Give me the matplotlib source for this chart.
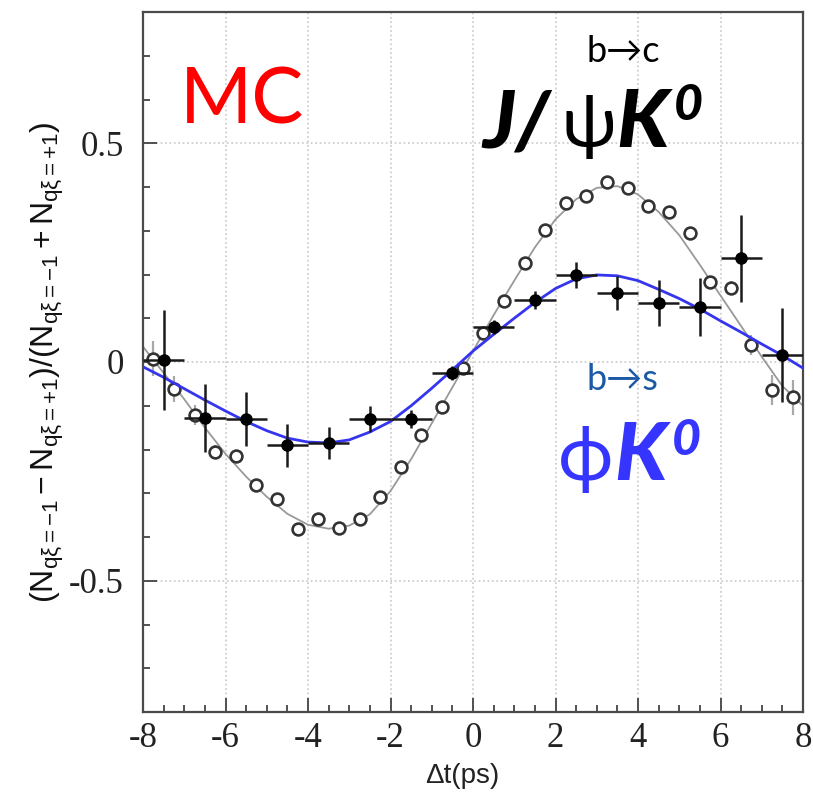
import numpy as np
import matplotlib
matplotlib.use("Agg")
import matplotlib.pyplot as plt

plt.rcParams['axes.unicode_minus'] = False
plt.rcParams['mathtext.fontset'] = 'custom'
plt.rcParams['mathtext.rm'] = 'Liberation Sans'
plt.rcParams['mathtext.it'] = 'Liberation Sans:italic'
plt.rcParams['mathtext.sf'] = 'Liberation Sans'

# phi K0 (b->s), filled points, 1 ps bins
phi_t = [-7.5, -6.5, -5.5, -4.5, -3.5, -2.5, -1.5, -0.5, 0.5, 1.5, 2.5, 3.5, 4.5, 5.5, 6.5, 7.5]
phi_a = [0.005, -0.128, -0.130, -0.190, -0.185, -0.130, -0.130, -0.025, 0.080, 0.142, 0.199, 0.158, 0.135, 0.126, 0.237, 0.016]
phi_err = [0.115, 0.078, 0.062, 0.049, 0.036, 0.029, 0.020, 0.016, 0.016, 0.020, 0.030, 0.038, 0.053, 0.067, 0.100, 0.108]
phi_xerr = 0.5

# J/psi K0 (b->c), open points, 0.5 ps bins
jpsi_t = [-7.75, -7.25, -6.75, -6.25, -5.75, -5.25, -4.75, -4.25, -3.75, -3.25, -2.75, -2.25,
          -1.75, -1.25, -0.75, -0.25, 0.25, 0.75, 1.25, 1.75, 2.25, 2.75, 3.25, 3.75,
          4.25, 4.75, 5.25, 5.75, 6.25, 6.75, 7.25, 7.75]
jpsi_a = [0.007, -0.062, -0.121, -0.205, -0.215, -0.281, -0.313, -0.381, -0.358, -0.379, -0.358, -0.308,
          -0.240, -0.167, -0.103, -0.014, 0.066, 0.139, 0.226, 0.301, 0.363, 0.379, 0.411, 0.397,
          0.356, 0.342, 0.295, 0.183, 0.169, 0.039, -0.064, -0.080]
jpsi_err = [0.040, 0.030, 0.022, 0.016, 0.012, 0.010, 0.009, 0.008, 0.008, 0.008, 0.008, 0.009,
            0.009, 0.009, 0.010, 0.010, 0.010, 0.010, 0.009, 0.009, 0.008, 0.008, 0.008, 0.008,
            0.009, 0.009, 0.010, 0.012, 0.016, 0.022, 0.035, 0.040]

# fit curves, every 0.5 ps
fit_t = [-8.0, -7.5, -7.0, -6.5, -6.0, -5.5, -5.0, -4.5, -4.0, -3.5, -3.0, -2.5, -2.0, -1.5, -1.0, -0.5, 0.0,
         0.5, 1.0, 1.5, 2.0, 2.5, 3.0, 3.5, 4.0, 4.5, 5.0, 5.5, 6.0, 6.5, 7.0, 7.5, 8.0]
fit_jpsi = [0.035, -0.025, -0.085, -0.150, -0.210, -0.262, -0.308, -0.347, -0.372, -0.381, -0.374, -0.348, -0.295, -0.222, -0.140, -0.058, 0.025,
            0.107, 0.186, 0.262, 0.326, 0.372, 0.398, 0.402, 0.383, 0.343, 0.290, 0.222, 0.152, 0.082, 0.012, -0.055, -0.100]
fit_phi = [-0.011, -0.035, -0.061, -0.087, -0.112, -0.136, -0.157, -0.174, -0.183, -0.185, -0.178, -0.160, -0.136, -0.100, -0.060, -0.018, 0.025,
           0.063, 0.100, 0.136, 0.168, 0.190, 0.199, 0.197, 0.186, 0.166, 0.145, 0.121, 0.094, 0.068, 0.041, 0.015, -0.014]

W, H = 813, 792
fig = plt.figure(figsize=(W / 100, H / 100), dpi=100)
ax = fig.add_axes([143 / W, 80 / H, 660 / W, 700 / H])

ax.plot(fit_t, fit_jpsi, color='#999999', lw=1.3, zorder=2)
ax.errorbar(jpsi_t, jpsi_a, yerr=jpsi_err, fmt='o', ms=8.5, mfc='white', mec='#333333', mew=1.9,
            ecolor='#a8a8a8', elinewidth=1.6, capsize=0, zorder=3)
ax.plot(fit_t, fit_phi, color='#3535f0', lw=2, zorder=4)
ax.errorbar(phi_t, phi_a, xerr=phi_xerr, yerr=phi_err, fmt='o', ms=8, color='black',
            ecolor='#1a1a1a', elinewidth=1.8, capsize=0, zorder=5)

ax.set_xlim(-8, 8)
ax.set_ylim(-0.8, 0.8)
ax.set_xticks(np.arange(-8, 9, 2))
ax.set_xticklabels(['-8', '-6', '-4', '-2', '0', '2', '4', '6', '8'])
ax.set_xticks(np.arange(-8, 8.01, 0.5), minor=True)
ax.set_yticks([-0.5, 0, 0.5])
ax.set_yticklabels(['-0.5', '0', '0.5'])
ax.set_yticks(np.arange(-0.8, 0.81, 0.1), minor=True)
ax.grid(True, which='major', linestyle=':', color='#c8c8c8', lw=1.2)
ax.tick_params(which='both', direction='in', top=False, right=False, colors='#444444',
               labelcolor='#222222', width=1.3)
ax.tick_params(which='major', length=10, labelsize=25)
ax.tick_params(which='minor', length=5)
ax.tick_params(axis='x', pad=7)
ax.tick_params(axis='y', pad=14)
for lab in ax.get_xticklabels() + ax.get_yticklabels():
    lab.set_family('Liberation Serif')
for s in ax.spines.values():
    s.set_color('#4a4a4a')
    s.set_linewidth(1.6)

ax.set_ylabel(r'$\mathrm{(N_{q\xi=-1}-N_{q\xi=+1})/(N_{q\xi=-1}+N_{q\xi=+1})}$',
              fontsize=23, color='#111111', labelpad=2)
fig.text(462 / W, 1 - 783 / H, 'Δt(ps)', fontsize=20, family='Liberation Sans',
         color='#222222', ha='center', va='baseline')


def ftxt(x, y, s, **kw):
    fig.text(x / W, 1 - y / H, s, va='baseline', **kw)


sans = ['Lato', 'DejaVu Sans']
ftxt(180, 123, 'MC', fontsize=56, color='#ff0000', family=sans)
ftxt(623, 62, 'b→c', fontsize=26, color='black', family=sans, ha='center')
ftxt(482, 147, 'J/', fontsize=58, color='black', family=sans, weight='black', style='italic')
ftxt(562, 147, 'ψ', fontsize=52, color='black', family=sans)
ftxt(616, 147, 'K', fontsize=58, color='black', family=sans, weight='black', style='italic')
ftxt(674, 120, '0', fontsize=36, color='black', family=sans, weight='black', style='italic')

ftxt(622, 390, 'b→s', fontsize=26, color='#1c5aa6', family=sans, ha='center')
ftxt(558, 480, 'ϕ', fontsize=54, color='#3535ff', family=sans)
ftxt(614, 480, 'K', fontsize=58, color='#3535ff', family=sans, weight='black', style='italic')
ftxt(672, 455, '0', fontsize=36, color='#3535ff', family=sans, weight='black', style='italic')

fig.savefig('out.png', dpi=100)
